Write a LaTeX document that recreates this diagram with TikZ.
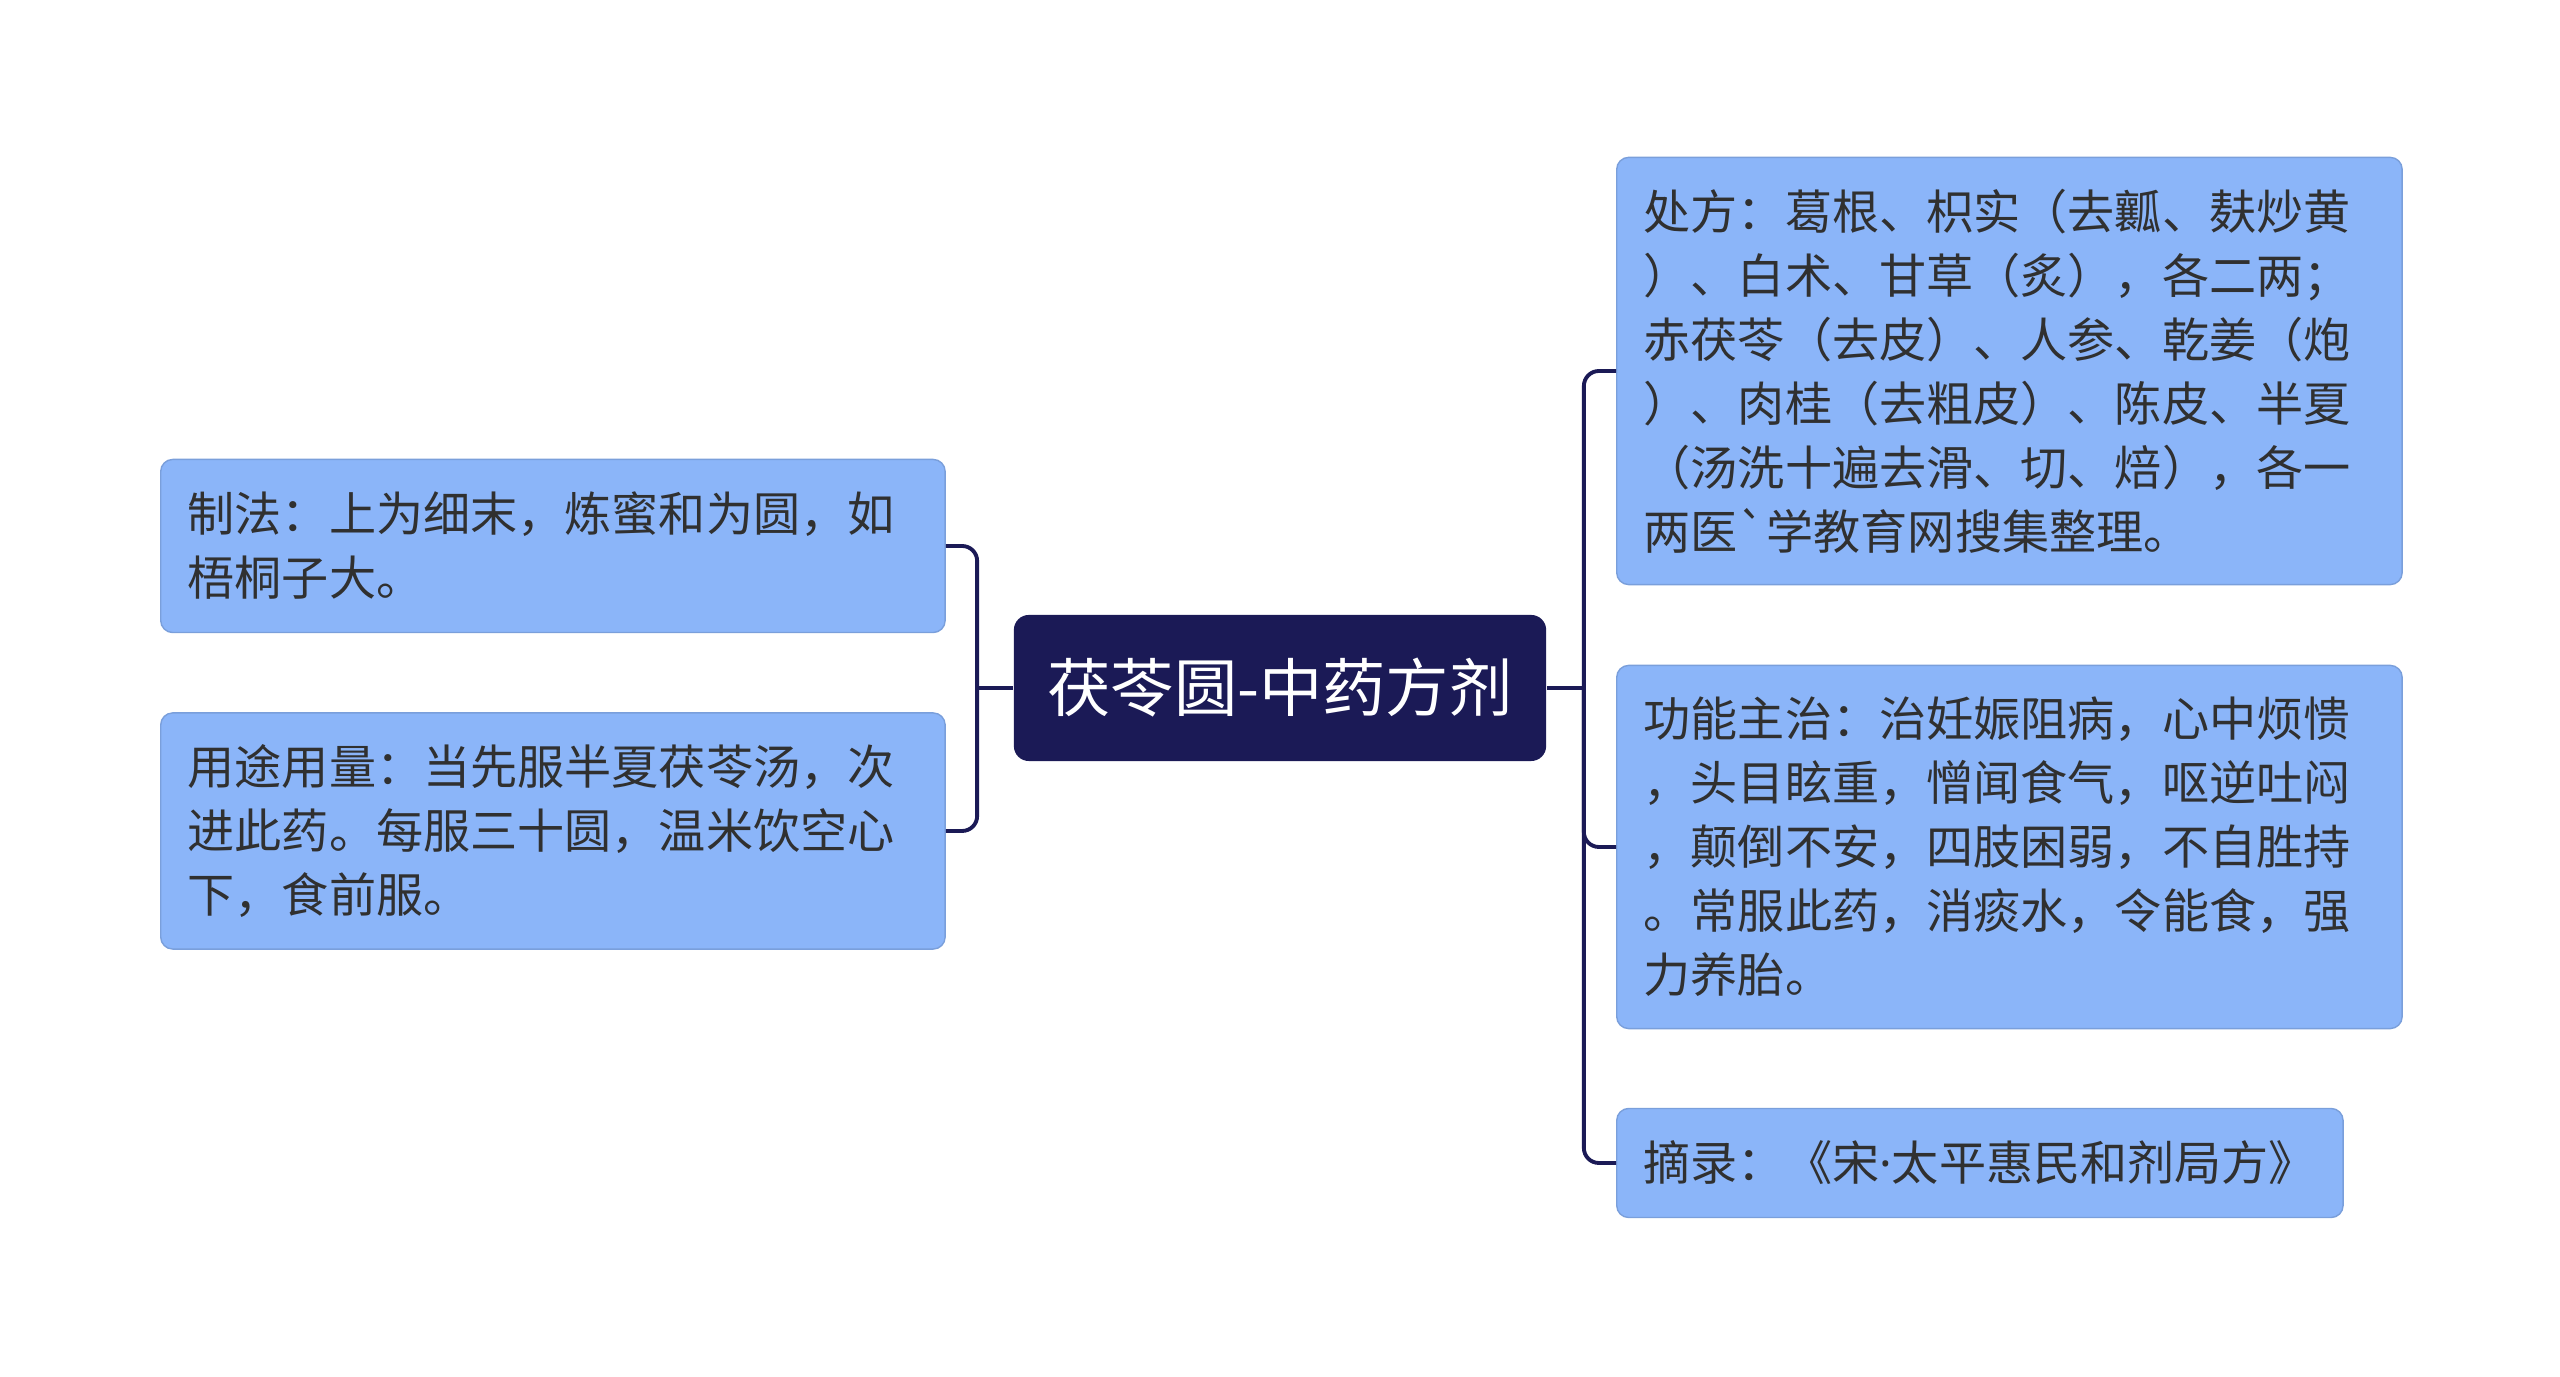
\documentclass[tikz,border=0pt]{standalone}
\usepackage{fontspec}
\newfontfamily\cjk[Ligatures=TeXOff]{Noto Sans CJK SC}
\newfontfamily\latin{Noto Sans}
\usetikzlibrary{calc}
\definecolor{leafblue}{HTML}{8BB5F9}
\definecolor{hubnavy}{HTML}{1B1A56}
\definecolor{inkgray}{HTML}{303030}

\begin{document}
\begin{tikzpicture}[x=0.01cm, y=-0.01cm,
    leaf/.style={fill=leafblue, draw=leafblue!88!black, line width=0.4pt,
      rounded corners=0.12cm, text=inkgray, align=left, inner xsep=0.27cm,
      inner ysep=0pt, anchor=west, font=\cjk\fontsize{13.4pt}{18.2pt}\selectfont},
    hub/.style={fill=hubnavy, rounded corners=0.15cm, text=white,
      font=\cjk\fontsize{18pt}{22pt}\selectfont, minimum width=5.32cm, minimum height=1.46cm},
    link/.style={draw=hubnavy, line width=1.1pt}]
    \useasboundingbox (0,0) rectangle (2560,1377);
    \node[hub] (hub) at (1280,688) {茯苓圆-中药方剂};
    % left side
    \node[leaf, text width=7.3cm, minimum height=1.73cm] (zhifa) at (160,546)
        {制法：上为细末，炼蜜和为圆，如\\梧桐子大。};
    \node[leaf, text width=7.3cm, minimum height=2.36cm] (yongtu) at (160,831)
        {用途用量：当先服半夏茯苓汤，次\\进此药。每服三十圆，温米饮空心\\下，食前服。};
    % right side
    \node[leaf, text width=7.31cm, minimum height=4.27cm] (chufang) at (1616,371)
        {处方：葛根、枳实（去瓤、麸炒黄\\）、白术、甘草（炙），各二两；\\赤茯苓（去皮）、人参、乾姜（炮\\）、肉桂（去粗皮）、陈皮、半夏\\（汤洗十遍去滑、切、焙），各一\\两医`学教育网搜集整理。};
    \node[leaf, text width=7.31cm, minimum height=3.63cm] (gongneng) at (1616,847)
        {功能主治：治妊娠阻病，心中烦愦\\，头目眩重，憎闻食气，呕逆吐闷\\，颠倒不安，四肢困弱，不自胜持\\。常服此药，消痰水，令能食，强\\力养胎。};
    \node[leaf, minimum height=1.09cm] (zhailu) at (1616,1163)
        {摘录：《宋{\latin ·}太平惠民和剂局方》};
    \coordinate (lj) at ($(hub.west)+(-36,0)$);
    \coordinate (rj) at ($(hub.east)+(37,0)$);
    \path[link] (hub.west) -- (lj);
    \path[link] (hub.east) -- (rj);
    \foreach \n in {zhifa, yongtu}
        \path[link, rounded corners=0.15cm] (lj) |- (\n.east);
    \foreach \n in {chufang, gongneng, zhailu}
        \path[link, rounded corners=0.15cm] (rj) |- (\n.west);
\end{tikzpicture}
\end{document}
